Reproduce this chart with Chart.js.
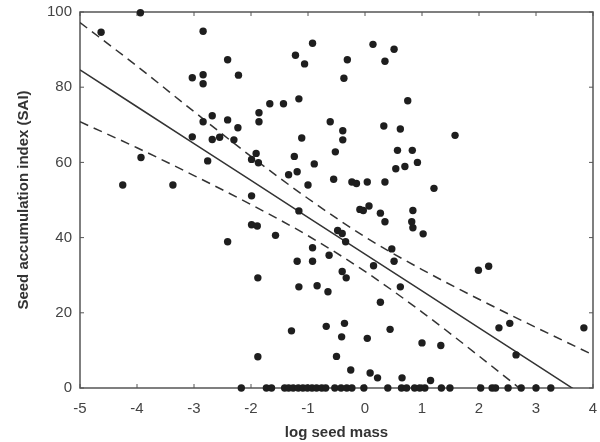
<!DOCTYPE html>
<html>
<head>
<meta charset="utf-8">
<script src="https://cdn.jsdelivr.net/npm/chart.js@4.4.1/dist/chart.umd.min.js"></script>
<style>
  html, body { margin: 0; padding: 0; background: #fff; }
  #wrap { width: 600px; height: 442px; }
</style>
</head>
<body>
<div id="wrap"><canvas id="seedChart" width="600" height="442"></canvas></div>
<script>
// titik-titik data (log seed mass vs SAI)
const seedX = [
  -4.63, -3.94, -2.84, -2.41, -3.03, -2.84, -2.84, -2.22, -2.68, -2.84,
  -2.41, -2.23, -3.03, -2.68, -2.55, -2.30, -1.86, -1.86, -3.93, -2.76,
  -1.91, -1.99, -1.87, -4.25, -3.37, -1.99,
  -0.92, 0.14, 0.51, -1.22, -1.06, -0.31, 0.35, -0.37, -1.16, -1.67,
  -1.43, 0.75, -0.61, 0.33, 0.62, -0.39, -0.39, -1.11, -1.24, -0.52,
  0.57, 0.83, 0.92, -0.89, 0.54, 0.70, -1.19, -1.34, -0.55, -1.00,
  -0.23, -0.15, 0.04, 0.35,
  1.58, 1.21,
  -1.99, -1.89, -2.41, -1.88, -1.88,
  -1.16, -0.09, -0.03, 0.07, 0.27, 0.35, 0.84, 0.82, 0.84, 1.02,
  -1.57, -0.48, -0.40, -0.34, -0.92, -1.19, -0.92, -0.63, 0.47, 0.51,
  0.15, -0.40, -0.33, -1.16, -0.84, -0.65, 0.62, 0.27, -1.29, -0.68,
  -0.36, -0.41, 0.04, 0.44, 1.00, -0.50, -0.25, 0.09, 0.22, 0.65, 1.15,
  1.99, 2.17, 2.35, 2.54, 3.84, 2.65, 1.33,
  -2.17, -1.73, -1.64, -1.41, -1.34, -1.26, -1.17, -1.09, -1.01, -0.93,
  -0.85, -0.76, -0.69, -0.53, -0.42, -0.32, -0.23, -0.02, 0.40, 0.64,
  0.73, 0.87, 0.96, 1.05, 1.34, 1.49, 2.03, 2.23, 2.29, 2.51,
  2.74, 3.00, 3.26
];
const seedY = [
  94.6, 99.8, 94.9, 87.3, 82.5, 83.3, 80.9, 83.2, 72.4, 70.8,
  71.3, 69.2, 66.8, 66.1, 66.7, 66.0, 73.2, 70.8, 61.3, 60.4,
  62.4, 60.8, 59.9, 54.0, 54.0, 51.1,
  91.7, 91.4, 90.1, 88.5, 86.2, 87.3, 86.9, 82.4, 76.9, 75.6,
  75.6, 76.4, 70.8, 69.7, 68.9, 68.4, 66.0, 66.5, 61.6, 62.8,
  63.2, 63.2, 60.0, 59.6, 58.3, 58.9, 57.5, 56.7, 55.5, 54.0,
  54.8, 54.4, 54.8, 54.8,
  67.2, 53.1,
  43.4, 43.1, 38.9, 29.3, 8.3,
  47.1, 47.5, 47.2, 48.4, 46.5, 44.2, 47.2, 44.2, 42.6, 41.0,
  40.6, 41.9, 41.1, 38.9, 37.3, 33.7, 33.7, 35.3, 37.0, 33.7,
  32.5, 31.0, 29.3, 26.9, 27.2, 25.6, 26.9, 22.8, 15.2, 16.4,
  17.2, 13.6, 13.2, 15.6, 12.0, 8.4, 4.8, 4.0, 2.7, 2.7, 2.0,
  31.3, 32.4, 16.0, 17.2, 16.0, 8.8, 11.3,
  0, 0, 0, 0, 0, 0, 0, 0, 0, 0,
  0, 0, 0, 0, 0, 0, 0, 0, 0, 0,
  0, 0, 0, 0, 0, 0, 0, 0, 0, 0,
  0, 0, 0
];

// garis regresi dan batas kepercayaan
const fitX   = [-5, -4, -3, -2, -1, 0, 1, 2, 3, 4];
const fitY   = [84.6, 74.8, 65.0, 55.2, 45.4, 35.6, 25.8, 16.0, 6.2, -3.6];
const upperY = [97.2, 85.6, 73.5, 61.6, 50.4, 40.2, 31.5, 23.6, 16.1, 8.8];
const lowerY = [70.8, 63.9, 56.5, 48.8, 40.5, 31.0, 20.2, 8.5, -3.6, -16.0];

const toPoints = (xs, ys) => xs.map((v, i) => ({ x: v, y: ys[i] }));

// bingkai + tick di dalam area plot
const framePlugin = {
  id: 'frame',
  beforeDatasetsDraw(chart) {
    const { ctx, chartArea: a, scales } = chart;
    ctx.save();
    ctx.strokeStyle = '#555';
    ctx.lineWidth = 1.5;
    ctx.strokeRect(a.left, a.top, a.right - a.left, a.bottom - a.top);
    ctx.lineWidth = 1;
    ctx.beginPath();
    scales.x.ticks.forEach(t => {
      const px = scales.x.getPixelForValue(t.value);
      ctx.moveTo(px, a.bottom); ctx.lineTo(px, a.bottom - 4);
      ctx.moveTo(px, a.top); ctx.lineTo(px, a.top + 4);
    });
    scales.y.ticks.forEach(t => {
      const py = scales.y.getPixelForValue(t.value);
      ctx.moveTo(a.left, py); ctx.lineTo(a.left + 4, py);
      ctx.moveTo(a.right, py); ctx.lineTo(a.right - 4, py);
    });
    ctx.stroke();
    ctx.restore();
  }
};

const ctx = document.getElementById('seedChart').getContext('2d');
const seedChart = new Chart(ctx, {
  type: 'scatter',
  data: {
    datasets: [
      {
        label: 'SAI',
        data: toPoints(seedX, seedY),
        backgroundColor: '#1e1e1e',
        borderWidth: 0,
        pointRadius: 3.7,
        clip: false,
        order: 1
      },
      {
        type: 'line',
        label: 'fit',
        data: toPoints(fitX, fitY),
        borderColor: '#333',
        borderWidth: 1.5,
        pointRadius: 0,
        fill: false,
        order: 2
      },
      {
        type: 'line',
        label: 'upper',
        data: toPoints(fitX, upperY),
        borderColor: '#333',
        borderWidth: 1.5,
        borderDash: [9, 6],
        pointRadius: 0,
        cubicInterpolationMode: 'monotone',
        fill: false,
        order: 2
      },
      {
        type: 'line',
        label: 'lower',
        data: toPoints(fitX, lowerY),
        borderColor: '#333',
        borderWidth: 1.5,
        borderDash: [9, 6],
        pointRadius: 0,
        cubicInterpolationMode: 'monotone',
        fill: false,
        order: 2
      }
    ]
  },
  options: {
    responsive: false,
    animation: false,
    layout: { padding: { top: 12, right: 7, left: 0, bottom: 0 } },
    plugins: {
      legend: { display: false },
      tooltip: { enabled: false }
    },
    scales: {
      x: {
        type: 'linear',
        min: -5,
        max: 4,
        afterFit: s => { s.height = 54; s.paddingLeft = 0; s.paddingRight = 0; },
        grid: { display: false, drawTicks: false },
        border: { display: false },
        ticks: {
          stepSize: 1,
          padding: 12,
          color: '#444',
          font: { family: 'Liberation Sans', size: 15 }
        },
        title: {
          display: true,
          text: 'log seed mass',
          color: '#333',
          padding: { top: 0, bottom: 0 },
          font: { family: 'Liberation Sans', size: 15, weight: 'bold' }
        }
      },
      y: {
        min: 0,
        max: 100,
        afterFit: s => { s.width = 80; s.paddingTop = 0; s.paddingBottom = 0; },
        grid: { display: false, drawTicks: false },
        border: { display: false },
        ticks: {
          stepSize: 20,
          padding: 8,
          color: '#444',
          font: { family: 'Liberation Sans', size: 15 }
        },
        title: {
          display: true,
          text: 'Seed accumulation index (SAI)',
          color: '#333',
          padding: { top: 15, bottom: 0 },
          font: { family: 'Liberation Sans', size: 15, weight: 'bold' }
        }
      }
    }
  },
  plugins: [framePlugin]
});
</script>
</body>
</html>
